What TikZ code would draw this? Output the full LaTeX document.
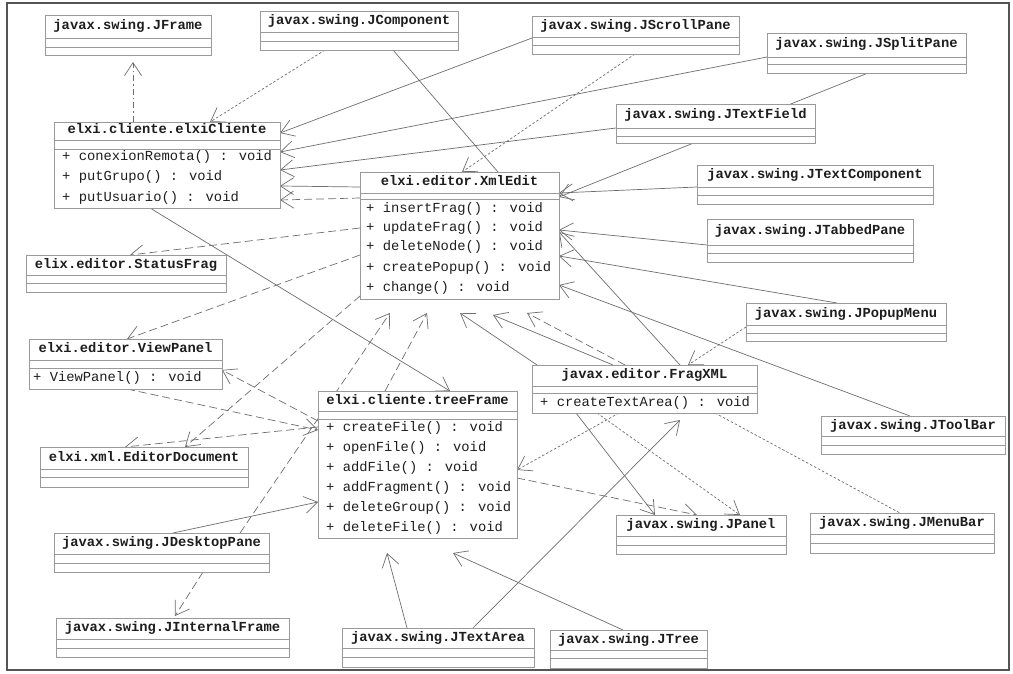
\documentclass[tikz,border=0pt]{standalone}
\usepackage{fontspec}
\newfontfamily\umlmono{Liberation Mono}
\usetikzlibrary{arrows.meta}
\pgfdeclarelayer{bg}
\pgfdeclarelayer{edges}
\pgfsetlayers{bg,edges,main}

\definecolor{ink}{HTML}{1E1E1E}
\definecolor{boxgray}{HTML}{9A9A9A}
\definecolor{linkgray}{HTML}{6E6E6E}
\definecolor{framegray}{HTML}{555555}

\tikzset{
  x=1pt, y=-1pt,
  clsbox/.style={draw=boxgray, fill=white, line width=0.8pt, inner sep=0pt, outer sep=0pt, anchor=north west},
  sepline/.style={draw=boxgray, line width=0.7pt},
  ctitle/.style={font=\umlmono\bfseries\fontsize{13.8}{14}\selectfont, text=ink, inner sep=0pt, text height=8pt, text depth=2pt},
  cop/.style={font=\umlmono\fontsize{13.8}{14}\selectfont, text=ink, inner sep=0pt, anchor=west, text height=8pt, text depth=2pt},
  link/.style={draw=linkgray, line width=0.7pt},
  headed/.style={-{Straight Barb[length=13pt,width=17pt]}},
  dashlink/.style={link, dash pattern=on 8pt off 4pt},
  dotlink/.style={link, dash pattern=on 2.5pt off 2pt},
  dashdotlink/.style={link, dash pattern=on 6pt off 3pt on 1.5pt off 3pt},
}

% class box: name, left, top, right, bottom, first divider y, second divider y, title
\newcommand\umlclass[8]{%
  \node[clsbox, minimum width={(#4-#2)*1pt}, minimum height={(#5-#3)*1pt}] (#1) at (#2,#3) {};
  \draw[sepline] ([yshift={-(#6-#3)*1pt}]#1.north west) -- ([yshift={-(#6-#3)*1pt}]#1.north east);
  \draw[sepline] ([yshift={-(#7-#3)*1pt}]#1.north west) -- ([yshift={-(#7-#3)*1pt}]#1.north east);
  \node[ctitle] (#1-title) at ([yshift={-(#6-#3)*0.5pt}]#1.north) {#8};
}

\begin{document}
\begin{tikzpicture}
\begin{pgfonlayer}{bg}
  \fill[white] (0,0) rectangle (1013,674);
  \draw[framegray, line width=1.2pt] (7,3) rectangle (1009,670);
  \draw[framegray, line width=2.6pt] (7,3) -- (7,670);
\end{pgfonlayer}
\useasboundingbox (0,0) rectangle (1013,674);

% ---- classes ----
\umlclass{jframe}{45}{15}{211}{55}{38}{47}{javax.swing.JFrame}
\umlclass{jcomp}{260}{11}{458}{50}{32}{41}{javax.swing.JComponent}
\umlclass{jscroll}{532}{16}{739}{54}{37}{45}{javax.swing.JScrollPane}
\umlclass{jsplit}{767}{33}{966}{73}{57}{64}{javax.swing.JSplitPane}
\umlclass{cliente}{54}{122}{280}{208}{140}{149}{elxi.cliente.elxiCliente}
\node[cop] (cliente-m1) at (62,158) {+ conexionRemota() : void};
\node[cop] (cliente-m2) at (62,178) {+ putGrupo() : void};
\node[cop] (cliente-m3) at (62,198) {+ putUsuario() : void};
\umlclass{jtfield}{616}{104}{815}{143}{128}{136}{javax.swing.JTextField}
\umlclass{jtcomp}{697}{165}{933}{204}{187}{195}{javax.swing.JTextComponent}
\umlclass{xml}{360}{172}{559}{299}{193}{199}{elxi.editor.XmlEdit}
\node[cop] (xml-m1) at (366,209) {+ insertFrag() : void};
\node[cop] (xml-m2) at (366,229) {+ updateFrag() : void};
\node[cop] (xml-m3) at (366,248) {+ deleteNode() : void};
\node[cop] (xml-m4) at (366,268) {+ createPopup() : void};
\node[cop] (xml-m5) at (366,288) {+ change() : void};
\umlclass{jtabbed}{707}{219}{913}{262}{245}{253}{javax.swing.JTabbedPane}
\umlclass{status}{26}{255}{226}{292}{275}{283}{elix.editor.StatusFrag}
\umlclass{jpopup}{746}{303}{946}{341}{325}{333}{javax.swing.JPopupMenu}
\umlclass{viewp}{29}{339}{222}{389}{360}{368}{elxi.editor.ViewPanel}
\node[cop] (viewp-m1) at (33,378) {+ ViewPanel() : void};
\umlclass{frag}{532}{365}{757}{413}{386}{393}{javax.editor.FragXML}
\node[cop] (frag-m1) at (540,403) {+ createTextArea() : void};
\umlclass{tree}{318}{391}{517}{538}{411}{419}{elxi.cliente.treeFrame}
\node[cop] (tree-m1) at (326,428) {+ createFile() : void};
\node[cop] (tree-m2) at (326,448) {+ openFile() : void};
\node[cop] (tree-m3) at (326,468) {+ addFile() : void};
\node[cop] (tree-m4) at (326,488) {+ addFragment() : void};
\node[cop] (tree-m5) at (326,508) {+ deleteGroup() : void};
\node[cop] (tree-m6) at (326,528) {+ deleteFile() : void};
\umlclass{jtool}{821}{416}{1005}{454}{436}{445}{javax.swing.JToolBar}
\umlclass{edoc}{40}{447}{248}{487}{469}{477}{elxi.xml.EditorDocument}
\umlclass{jdesk}{54}{533}{269}{572}{554}{563}{javax.swing.JDesktopPane}
\umlclass{jpanel}{616}{515}{786}{554}{536}{545}{javax.swing.JPanel}
\umlclass{jmenu}{810}{513}{994}{553}{534}{543}{javax.swing.JMenuBar}
\umlclass{jintf}{56}{618}{289}{657}{639}{648}{javax.swing.JInternalFrame}
\umlclass{jtarea}{342}{628}{534}{667}{648}{657}{javax.swing.JTextArea}
\umlclass{jtree}{550}{630}{707}{668}{650}{658}{javax.swing.JTree}

% ---- connectors ----
\begin{pgfonlayer}{edges}
% into elxiCliente
\draw[dashdotlink,headed] ([shift={(79,0)}]cliente.north west) -- ([shift={(88,47)}]jframe.north west);
\draw[dotlink,headed] ([shift={(65,39)}]jcomp.north west) -- ([shift={(156,0)}]cliente.north west);
\draw[link,headed] ([shift={(0,22)}]jscroll.north west) -- ([shift={(226,11)}]cliente.north west);
\draw[link,headed] ([shift={(0,24)}]jsplit.north west) -- ([shift={(226,30)}]cliente.north west);
\draw[link,headed] ([shift={(0,24)}]jtfield.north west) -- ([shift={(226,48)}]cliente.north west);
\draw[link,headed] ([shift={(0,15)}]xml.north west) -- ([shift={(226,64)}]cliente.north west);
\draw[dashlink,headed] ([shift={(0,26)}]xml.north west) -- ([shift={(226,78)}]cliente.north west);
% into XmlEdit, top and right
\draw[link] ([shift={(133,39)}]jcomp.north west) -- ([shift={(138,0)}]xml.north west);
\draw[dotlink,headed] ([shift={(103,38)}]jscroll.north west) -- ([shift={(102,0)}]xml.north west);
\draw[link,headed] ([shift={(101,40)}]jsplit.north west) -- ([shift={(199,25)}]xml.north west);
\draw[link,headed] ([shift={(0,22)}]jtcomp.north west) -- ([shift={(199,21)}]xml.north west);
\draw[link,headed] ([shift={(0,26)}]jtabbed.north west) -- ([shift={(199,58)}]xml.north west);
\draw[link,headed] ([shift={(148,0)}]frag.north west) -- ([shift={(199,60)}]xml.north west);
\draw[link,headed] ([shift={(91,0)}]jpopup.north west) -- ([shift={(199,84)}]xml.north west);
\draw[link,headed] ([shift={(89,0)}]jtool.north west) -- ([shift={(199,113)}]xml.north west);
% out of XmlEdit, left side
\draw[dashlink,headed] ([shift={(0,56)}]xml.north west) -- ([shift={(104,0)}]status.north west);
\draw[dashlink,headed] ([shift={(0,83)}]xml.north west) -- ([shift={(98,0)}]viewp.north west);
\draw[dashlink,headed] ([shift={(0,124)}]xml.north west) -- ([shift={(145,0)}]edoc.north west);
% into XmlEdit, bottom
\draw[dashlink,headed] ([shift={(67,0)}]tree.north west) -- ([shift={(67,141)}]xml.north west);
\draw[dashlink,headed] ([shift={(186,0)}]jdesk.north west) -- ([shift={(30,141)}]xml.north west);
\draw[link,headed] ([shift={(5,0)}]frag.north west) -- ([shift={(100,141)}]xml.north west);
\draw[link,headed] ([shift={(81,0)}]frag.north west) -- ([shift={(133,143)}]xml.north west);
\draw[dashlink,headed] ([shift={(93,0)}]frag.north west) -- ([shift={(167,141)}]xml.north west);
\draw[dotlink,headed] ([shift={(0,24)}]jpopup.north west) -- ([shift={(156,0)}]frag.north west);
% treeFrame
\draw[link,headed] ([shift={(96,86)}]cliente.north west) -- ([shift={(132,0)}]tree.north west);
\draw[link,headed] ([shift={(119,0)}]jdesk.north west) -- ([shift={(0,111)}]tree.north west);
\draw[dashlink,headed] ([shift={(149,39)}]jdesk.north west) -- ([shift={(119,-2)}]jintf.north west);
\draw[link,headed] ([shift={(65,0)}]jtarea.north west) -- ([shift={(69,162)}]tree.north west);
\draw[link,headed] ([shift={(73,0)}]jtree.north west) -- ([shift={(135,162)}]tree.north west);
\draw[link,headed] ([shift={(131,0)}]jtarea.north west) -- ([shift={(148,55)}]frag.north west);
\draw[dotlink,headed] ([shift={(87,48)}]frag.north west) -- ([shift={(199,79)}]tree.north west);
\draw[dashlink,headed] ([shift={(199,87)}]tree.north west) -- ([shift={(81,0)}]jpanel.north west);
\draw[dotlink,headed] ([shift={(65,48)}]frag.north west) -- ([shift={(124,0)}]jpanel.north west);
\draw[link,headed] ([shift={(44,48)}]frag.north west) -- ([shift={(39,0)}]jpanel.north west);
\draw[dotlink] ([shift={(183,48)}]frag.north west) -- ([shift={(90,0)}]jmenu.north west);
\draw[dashlink,headed] ([shift={(98,50)}]viewp.north west) -- ([shift={(0,39)}]tree.north west);
\draw[dashlink,headed] ([shift={(0,36)}]tree.north west) -- ([shift={(85,0)}]edoc.north west);
\draw[dashlink,headed] ([shift={(0,30)}]tree.north west) -- ([shift={(193,31)}]viewp.north west);
\end{pgfonlayer}
\end{tikzpicture}
\end{document}
